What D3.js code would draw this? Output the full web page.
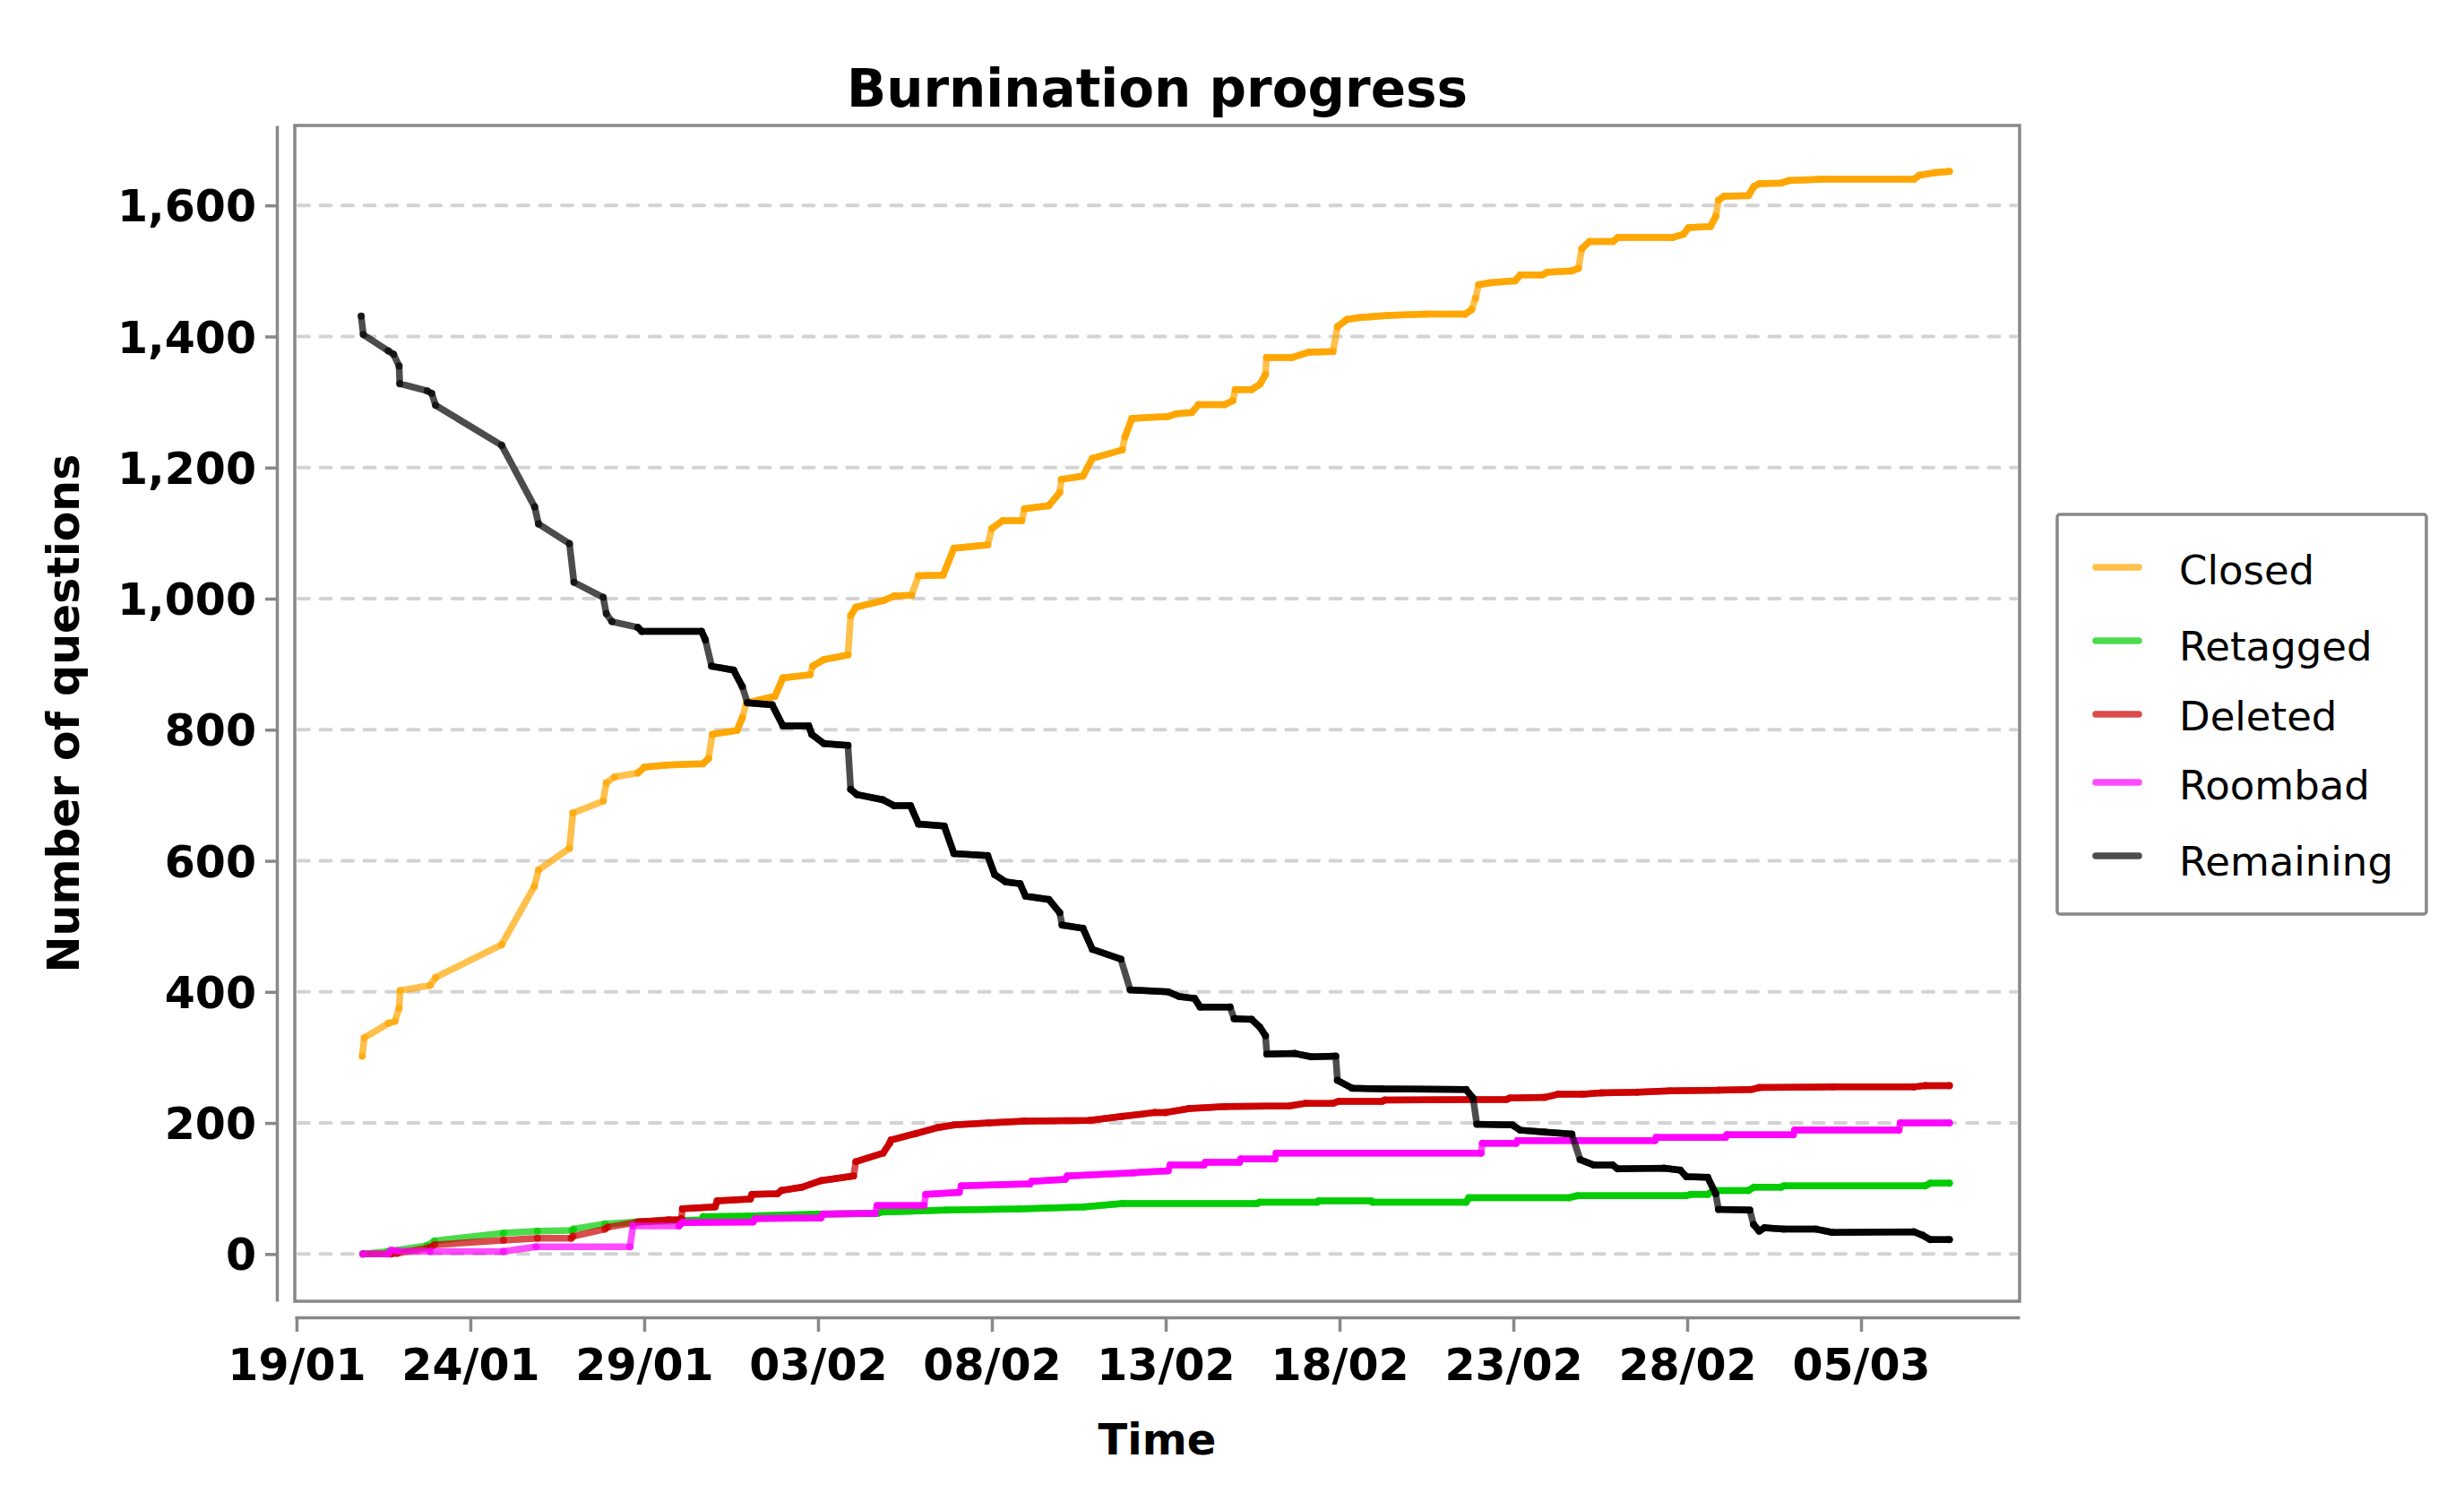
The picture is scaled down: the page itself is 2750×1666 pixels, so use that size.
<!DOCTYPE html>
<html><head><meta charset="utf-8">
<script src="https://cdn.jsdelivr.net/npm/d3@7"></script>
<style>html,body{margin:0;padding:0;background:#fff;} svg{display:block;font-family:"DejaVu Sans",sans-serif;}</style>
</head><body>
<svg id="chart" width="2750" height="1666"></svg>
<script>
// ---------------- data ----------------
// time given as days since 19/01/2018 00:00, value = number of questions
const startDate = "2018-01-19";
const seriesNames = ["Closed", "Retagged", "Deleted", "Roombad", "Remaining"];
const seriesColors = ["#ffa500", "#00cc00", "#cc0000", "#ff00ff", "#000000"];
const yTickValues = [0, 200, 400, 600, 800, 1000, 1200, 1400, 1600];
const xTickLabels = ["19/01", "24/01", "29/01", "03/02", "08/02", "13/02", "18/02", "23/02", "28/02", "05/03"];
const xDomainDays = [-0.05, 49.56];
const yDomain = [-72, 1722];

const closed = [[1.89,302],[1.95,330],[2.64,352],[2.83,355],[2.95,375],[2.98,402],[3.84,410],[4.0,422],[5.9,472],[6.84,561],[6.96,586],[7.85,619],[7.95,673],[8.82,691],[8.91,719],[9.15,728],[9.82,734],[10.01,743],[10.63,746],[11.69,748],[11.85,756],[11.96,793],[12.67,799],[12.82,818],[12.94,841],[13.76,851],[13.99,879],[14.77,884],[14.85,897],[15.17,907],[15.86,914],[15.94,974],[16.09,987],[16.87,997],[17.19,1004],[17.69,1005],[17.89,1035],[18.6,1036],[18.91,1077],[19.88,1082],[20.0,1107],[20.31,1119],[20.86,1119],[20.94,1137],[21.64,1142],[21.95,1162],[22.0,1182],[22.62,1187],[22.89,1214],[23.75,1227],[23.83,1247],[24.03,1275],[25.07,1278],[25.3,1282],[25.75,1284],[25.94,1296],[26.69,1296],[26.93,1302],[27.0,1319],[27.47,1319],[27.71,1327],[27.87,1342],[27.9,1368],[28.64,1368],[29.11,1376],[29.81,1377],[29.94,1415],[30.21,1426],[30.6,1429],[31.38,1432],[32.47,1434],[33.61,1434],[33.8,1441],[33.91,1458],[34.0,1479],[34.34,1482],[35.05,1485],[35.2,1494],[35.83,1494],[35.98,1498],[36.68,1500],[36.87,1504],[36.97,1534],[37.19,1545],[37.86,1545],[38.01,1551],[39.57,1551],[39.89,1556],[40.04,1566],[40.67,1568],[40.82,1583],[40.9,1608],[41.06,1614],[41.76,1615],[41.92,1629],[42.07,1633],[42.7,1634],[42.93,1638],[43.87,1640],[46.52,1640],[46.68,1646],[47.12,1650],[47.54,1652]];

const retagged = [[1.91,0],[2.64,4],[3.76,13],[3.97,20],[5.95,32],[6.93,35],[7.92,36],[7.97,38],[8.87,46],[9.77,49],[11.65,52],[11.7,57],[12.97,58],[15.08,61],[16.71,62],[16.8,64],[18.69,67],[20.8,69],[22.65,72],[23.75,77],[27.63,77],[27.7,79],[29.35,79],[29.4,81],[30.91,81],[30.95,79],[33.64,79],[33.72,86],[36.61,86],[36.84,89],[39.96,89],[40.1,91],[40.59,91],[40.75,97],[41.76,97],[41.92,102],[42.7,102],[42.78,104],[46.84,104],[46.99,108],[47.54,108]];

const deleted = [[1.91,0],[2.72,0],[2.9,1],[3.84,10],[3.97,14],[5.95,21],[6.93,24],[7.9,24],[7.95,27],[8.87,38],[8.95,41],[9.85,49],[10.71,52],[11.0,52],[11.07,54],[11.1,69],[12.04,72],[12.1,81],[13.05,84],[13.1,91],[13.83,92],[13.95,97],[14.54,102],[15.08,112],[16.02,119],[16.09,141],[16.87,154],[17.06,169],[17.1,174],[17.82,184],[18.45,193],[18.91,197],[19.92,200],[20.94,203],[22.81,204],[23.75,210],[24.69,216],[25.0,216],[25.68,222],[26.72,225],[28.57,226],[29.03,230],[29.81,230],[29.97,233],[31.22,233],[31.3,235],[34.81,236],[34.9,238],[35.9,239],[36.3,244],[37.0,244],[37.54,246],[38.56,247],[39.5,249],[40.9,250],[41.84,251],[42.07,254],[44.18,255],[46.52,255],[46.84,257],[47.54,257]];

const roombad = [[1.91,0],[2.64,0],[2.72,6],[2.9,5],[3.84,4],[5.95,4],[6.89,11],[9.59,11],[9.68,43],[11.0,43],[11.1,48],[13.13,49],[13.2,54],[15.08,55],[15.15,61],[16.64,62],[16.7,74],[18.05,74],[18.1,91],[19.06,94],[19.12,104],[21.09,107],[21.15,111],[22.11,114],[22.17,119],[24.06,124],[25.07,127],[25.13,136],[26.1,136],[26.14,140],[27.12,140],[27.16,145],[28.14,145],[28.18,154],[34.07,154],[34.11,169],[35.08,169],[35.12,173],[39.07,173],[39.11,178],[41.1,178],[41.14,182],[43.05,182],[43.09,189],[46.09,189],[46.13,200],[47.54,200]];

const remaining = [[1.86,1431],[1.92,1403],[2.64,1378],[2.79,1373],[2.95,1355],[2.97,1328],[3.76,1317],[3.89,1313],[4.0,1295],[5.9,1234],[6.85,1140],[6.96,1114],[7.85,1084],[7.98,1025],[8.82,1002],[8.91,977],[9.07,965],[9.82,956],[9.93,950],[11.65,950],[11.76,937],[11.94,897],[12.57,891],[12.82,866],[12.97,841],[13.68,838],[13.99,806],[14.73,806],[14.82,793],[15.17,779],[15.86,776],[15.94,709],[16.12,701],[16.87,693],[17.19,684],[17.66,684],[17.89,656],[18.63,653],[18.91,611],[19.88,608],[20.08,579],[20.39,568],[20.81,565],[20.97,546],[21.64,541],[21.95,521],[22.02,502],[22.62,497],[22.89,465],[23.71,450],[23.98,403],[25.07,400],[25.39,393],[25.83,390],[25.99,377],[26.85,377],[26.97,359],[27.47,358],[27.71,346],[27.87,333],[27.91,305],[28.72,306],[29.19,301],[29.89,302],[29.94,265],[30.36,253],[31.22,252],[33.64,251],[33.84,238],[33.95,198],[34.97,197],[35.2,189],[35.9,186],[36.68,183],[36.92,144],[37.31,136],[37.85,136],[38.0,130],[39.33,131],[39.8,128],[39.98,118],[40.59,117],[40.82,92],[40.9,68],[41.8,67],[41.91,45],[42.07,35],[42.22,40],[42.77,38],[43.71,38],[44.18,33],[46.52,34],[46.76,29],[46.99,22],[47.54,22]];

const seriesData = [closed, retagged, deleted, roombad, remaining];

// ---------------- layout / style ----------------
const W = 2750, H = 1666;
const box = {left: 329, right: 2254, top: 140, bottom: 1452};
const leftSpineX = 309, bottomSpineY = 1470;
const spineColor = "#888888";
const lineWidth = 7.5;
const denseFromDay = 9.7;      // from here the samples are frequent (marks overlap)
const steepLimit = 150;        // questions/day
const legendRows = [{lineY: 633, textY: 652}, {lineY: 715, textY: 737}, {lineY: 797, textY: 815}, {lineY: 873, textY: 892}, {lineY: 955, textY: 977}];

const base = d3.timeParse("%Y-%m-%d")(startDate);
const toDate = d => new Date(base.getTime() + d * 86400000);

const svg = d3.select("#chart");
svg.append("rect").attr("width", W).attr("height", H).attr("fill", "#fff");

const x = d3.scaleTime().domain(xDomainDays.map(toDate)).range([box.left, box.right]);
const y = d3.scaleLinear().domain(yDomain).range([box.bottom, box.top]);

// gridlines
svg.append("g").selectAll("line").data(yTickValues).join("line")
  .attr("x1", box.left + 4).attr("x2", box.right - 4)
  .attr("y1", d => y(d)).attr("y2", d => y(d))
  .attr("stroke", "#d3d3d3").attr("stroke-width", 4)
  .attr("stroke-dasharray", "12,12.5").attr("stroke-linecap", "round");

const line = d3.line().x(p => x(toDate(p[0]))).y(p => y(p[1]));

seriesData.forEach((data, i) => {
  const g = svg.append("g");
  const col = seriesColors[i];
  g.append("path").attr("d", line(data)).attr("fill", "none")
    .attr("stroke", col).attr("stroke-opacity", 0.7).attr("stroke-width", lineWidth)
    .attr("stroke-linejoin", "round").attr("stroke-linecap", "round");
  // dense, flat parts look saturated in the original (overlapping marks)
  const segs = [];
  for (let k = 0; k < data.length - 1; k++) {
    const a = data[k], b = data[k + 1];
    if (a[0] >= denseFromDay && Math.abs(b[1] - a[1]) / (b[0] - a[0]) < steepLimit) segs.push([a, b]);
  }
  g.append("path").attr("d", segs.map(s => line(s)).join(""))
    .attr("fill", "none").attr("stroke", col).attr("stroke-opacity", 0.95)
    .attr("stroke-width", lineWidth).attr("stroke-linecap", "round");
  g.selectAll("circle").data(data).join("circle")
    .attr("cx", p => x(toDate(p[0]))).attr("cy", p => y(p[1])).attr("r", lineWidth / 2 + 0.3)
    .attr("fill", col).attr("fill-opacity", 0.7);
});

// plot frame
svg.append("rect").attr("x", box.left).attr("y", box.top)
  .attr("width", box.right - box.left).attr("height", box.bottom - box.top)
  .attr("fill", "none").attr("stroke", spineColor).attr("stroke-width", 3.5);

// y axis
const yAxis = svg.append("g").attr("transform", `translate(${leftSpineX},0)`)
  .call(d3.axisLeft(y).tickValues(yTickValues).tickFormat(d3.format(","))
    .tickSize(13).tickSizeOuter(0).tickPadding(10));
yAxis.select(".domain").attr("stroke", spineColor).attr("stroke-width", 3.5);
yAxis.selectAll(".tick line").attr("stroke", spineColor).attr("stroke-width", 3.5);
yAxis.selectAll(".tick text").attr("dy", "0.36em").attr("fill", "#000")
  .attr("font-size", 49).attr("font-weight", "bold").attr("font-family", "DejaVu Sans");

// x axis
const xTicks = xTickLabels.map(s => d3.timeParse("%d/%m/%Y")(s + "/" + startDate.slice(0, 4)));
const xAxis = svg.append("g").attr("transform", `translate(0,${bottomSpineY})`)
  .call(d3.axisBottom(x).tickValues(xTicks).tickFormat(d3.timeFormat("%d/%m"))
    .tickSize(16).tickSizeOuter(0));
xAxis.select(".domain").attr("stroke", spineColor).attr("stroke-width", 3.5);
xAxis.selectAll(".tick line").attr("stroke", spineColor).attr("stroke-width", 3.5);
xAxis.selectAll(".tick text").attr("y", 70).attr("dy", 0).attr("fill", "#000")
  .attr("font-size", 49).attr("font-weight", "bold").attr("font-family", "DejaVu Sans");

// titles
const cx = (box.left + box.right) / 2;
svg.append("text").attr("x", cx).attr("y", 119).attr("text-anchor", "middle")
  .attr("font-size", 58).attr("font-weight", "bold").text("Burnination progress");
svg.append("text").attr("x", cx).attr("y", 1623).attr("text-anchor", "middle")
  .attr("font-size", 48).attr("font-weight", "bold").text("Time");
svg.append("text").attr("transform", `translate(88,${(box.top + box.bottom) / 2}) rotate(-90)`)
  .attr("text-anchor", "middle").attr("font-size", 49).attr("font-weight", "bold")
  .text("Number of questions");

// legend
const lg = svg.append("g");
lg.append("rect").attr("x", 2296).attr("y", 574).attr("width", 412).attr("height", 446)
  .attr("rx", 3).attr("fill", "#fff").attr("stroke", spineColor).attr("stroke-width", 3.5);
seriesNames.forEach((name, i) => {
  const r = legendRows[i];
  lg.append("line").attr("x1", 2339).attr("x2", 2387).attr("y1", r.lineY).attr("y2", r.lineY)
    .attr("stroke", seriesColors[i]).attr("stroke-opacity", 0.7).attr("stroke-width", 7.5)
    .attr("stroke-linecap", "round");
  lg.append("text").attr("x", 2432).attr("y", r.textY).attr("font-size", 45).text(name);
});
</script>
</body></html>
